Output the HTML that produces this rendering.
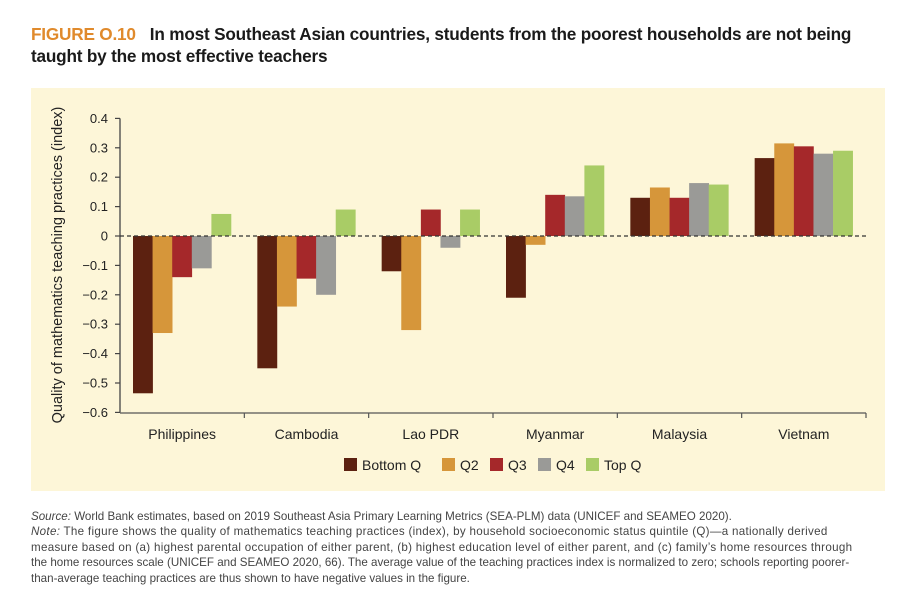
<!DOCTYPE html>
<html><head><meta charset="utf-8"><style>
body{margin:0;background:#fff;width:911px;height:614px;overflow:hidden;font-family:"Liberation Sans",sans-serif;}
.title{position:absolute;left:31px;top:23px;font-size:17.2px;font-weight:bold;color:#1a1a1a;line-height:22px;letter-spacing:-0.2px}
.title .fig{color:#e08a2c;margin-right:14px}
.panel{position:absolute;left:31px;top:88px;width:854px;height:403px;background:#fdf6d8}
.notes{position:absolute;left:31px;top:509px;width:870px;font-size:11.6px;line-height:15.4px;color:#444}
.notes div{white-space:nowrap}
</style></head><body>
<div class="title"><span class="fig">FIGURE O.10</span>In most Southeast Asian countries, students from the poorest households are not being<br>taught by the most effective teachers</div>
<div class="panel"></div>
<svg id="chart" width="911" height="614" style="position:absolute;left:0;top:0"></svg>
<div class="notes"><div><i>Source:</i> World Bank estimates, based on 2019 Southeast Asia Primary Learning Metrics (SEA-PLM) data (UNICEF and SEAMEO 2020).</div><div style="letter-spacing:0.3px"><i>Note:</i> The figure shows the quality of mathematics teaching practices (index), by household socioeconomic status quintile (Q)—a nationally derived</div><div style="letter-spacing:0.3px">measure based on (a) highest parental occupation of either parent, (b) highest education level of either parent, and (c) family’s home resources through</div><div>the home resources scale (UNICEF and SEAMEO 2020, 66). The average value of the teaching practices index is normalized to zero; schools reporting poorer-</div><div>than-average teaching practices are thus shown to have negative values in the figure.</div></div>
<script>
const categories=["Philippines","Cambodia","Lao PDR","Myanmar","Malaysia","Vietnam"];
const seriesNames=["Bottom Q","Q2","Q3","Q4","Top Q"];
const bottomQ=[-0.535,-0.45,-0.12,-0.21,0.13,0.265];
const q2=[-0.33,-0.24,-0.32,-0.03,0.165,0.315];
const q3=[-0.14,-0.145,0.09,0.14,0.13,0.305];
const q4=[-0.11,-0.2,-0.04,0.135,0.18,0.28];
const topQ=[0.075,0.09,0.09,0.24,0.175,0.29];
const yTicks=[0.4,0.3,0.2,0.1,0,-0.1,-0.2,-0.3,-0.4,-0.5,-0.6];
const colors=["#5c2110","#d6963a","#a5282a","#9a9a97","#a9cc66"];
const series=[bottomQ,q2,q3,q4,topQ];
const svg=document.getElementById('chart');const NS="http://www.w3.org/2000/svg";
function mk(t,a,p){const e=document.createElementNS(NS,t);for(const k in a)e.setAttribute(k,a[k]);(p||svg).appendChild(e);return e;}
const x0=120,x1=866,gw=(x1-x0)/categories.length,bw=19.6;
const y=v=>236-v*294;
const font='"Liberation Sans",sans-serif';
let ax=mk('line',{x1:x0,y1:y(0.4),x2:x0,y2:y(-0.6),stroke:'#444','stroke-width':1.3});


yTicks.forEach(t=>{
 mk('line',{x1:x0-5,y1:y(t),x2:x0,y2:y(t),stroke:'#444','stroke-width':1.2});
 const tx=mk('text',{x:108,y:y(t)+4.5,'text-anchor':'end','font-size':13,'font-family':font,fill:'#222'});
 tx.textContent=t===0?'0':(t<0?'−':'')+Math.abs(t).toFixed(1);
 
 
});
const yt=mk('text',{x:0,y:0,transform:'translate(62,265) rotate(-90)','text-anchor':'middle','font-size':14.5,'font-family':font,fill:'#222'});
yt.textContent='Quality of mathematics teaching practices (index)';


categories.forEach((c,i)=>{
 const gx=x0+i*gw+13;
 series.forEach((s,j)=>{
  const v=s[i];const r=mk('rect',{x:gx+j*bw,y:Math.min(y(v),y(0)),width:bw+0.3,height:Math.abs(y(v)-y(0)),fill:colors[j]});
  
  
 });
 const l=mk('text',{x:x0+(i+0.5)*gw,y:439,'text-anchor':'middle','font-size':14,'font-family':font,fill:'#222'});
 l.textContent=c;
 
 
});
mk('line',{x1:x0,y1:y(0),x2:x1,y2:y(0),stroke:'#333','stroke-width':1.2,'stroke-dasharray':'4,3'});
const xa=mk('line',{x1:x0,y1:413,x2:x1,y2:413,stroke:'#555','stroke-width':1.3});


for(let i=1;i<=categories.length;i++)mk('line',{x1:x0+i*gw,y1:413,x2:x0+i*gw,y2:418,stroke:'#555','stroke-width':1.2});
const lx=[344,442,490,538,586];
seriesNames.forEach((n,j)=>{
 const g=mk('g',{});
 
 
 mk('rect',{x:lx[j],y:458,width:13,height:13,fill:colors[j]},g);
 const t=mk('text',{x:lx[j]+18,y:470,'font-size':14,'font-family':font,fill:'#222'},g);t.textContent=n;
});
</script>
</body></html>
